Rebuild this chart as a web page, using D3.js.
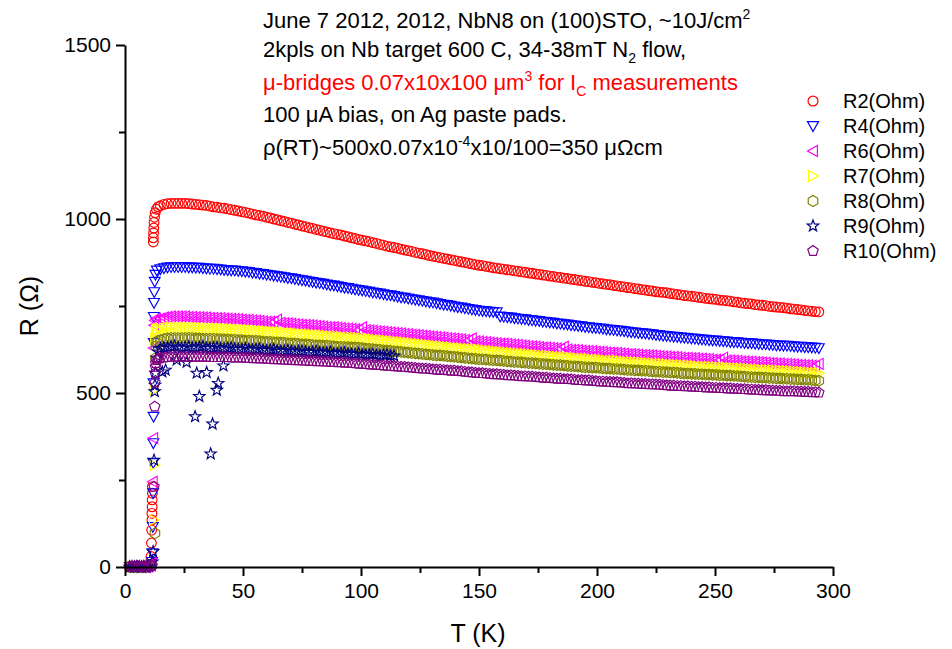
<!DOCTYPE html>
<html><head><meta charset="utf-8">
<script src="https://cdn.jsdelivr.net/npm/d3@7"></script>
<style>
body{margin:0;background:#fff;}
text{font-family:"Liberation Sans",Arial,sans-serif;}
</style>
</head><body>
<svg id="c" width="952" height="649"></svg>
<script>
// ---------- DATA ----------
const xTicks = [0,50,100,150,200,250,300];
const xMinor = [25,75,125,175,225,275];
const yTicks = [0,500,1000,1500];
const yMinor = [250,750,1250];

const seriesNames = ["R2(Ohm)","R4(Ohm)","R6(Ohm)","R7(Ohm)","R8(Ohm)","R9(Ohm)","R10(Ohm)"];

// temperature grids of the normal-state readings (K)
const tempK = [15,18,21,24,27,30,33,36,39,42,45,48,51,54,57,60,63,66,69,72,75,78,81,84,87,90,93,96,99,102,105,108,111,114,117,120,123,126,129,132,135,138,141,144,147,150,153,156,159,162,165,168,171,174,177,180,183,186,189,192,195,198,201,204,207,210,213,216,219,222,225,228,231,234,237,240,243,246,249,252,255,258,261,264,267,270,273,276,279,282,285,288,291,294];
const tempK2 = [16.5,19.5,22.5,25.5,28.5,31.5,34.5,37.5,40.5,43.5,46.5,49.5,52.5,55.5,58.5,61.5,64.5,67.5,70.5,73.5,76.5,79.5,82.5,85.5,88.5,91.5,94.5,97.5,100.5,103.5,106.5,109.5,112.5,115.5,118.5,121.5,124.5,127.5,130.5,133.5,136.5,139.5,142.5,145.5,148.5,151.5,154.5,157.5,160.5,163.5,166.5,169.5,172.5,175.5,178.5,181.5,184.5,187.5,190.5,193.5,196.5,199.5,202.5,205.5,208.5,211.5,214.5,217.5,220.5,223.5,226.5,229.5,232.5,235.5,238.5,241.5,244.5,247.5,250.5,253.5,256.5,259.5,262.5,265.5,268.5,271.5,274.5,277.5,280.5,283.5,286.5,289.5,292.5];

const r2 = [1038,1044,1045,1045,1044,1042,1040,1037,1034,1031,1027,1023,1019,1014,1010,1005,1000,995,990,985,980,975,970,965,960,956,951,946,941,937,932,927,922,918,913,909,904,900,895,891,887,883,879,875,871,867,864,860,857,854,851,848,845,842,839,836,833,830,827,824,821,818,815,812,809,806,803,800,797,794,791,789,786,783,780,778,775,772,770,767,765,762,759,757,754,752,749,747,745,742,740,737,735,733];
const r2b = [1042,1045,1045,1045,1043,1041,1039,1035,1032,1029,1025,1021,1017,1012,1008,1003,998,993,988,983,978,973,968,963,958,954,949,944,939,935,930,925,920,916,911,907,902,898,893,889,885,881,877,873,869,866,862,859,856,853,850,847,844,841,838,835,832,829,826,823,820,817,814,811,808,805,802,799,796,793,790,788,785,782,779,777,774,771,769,766,764,761,758,756,753,751,748,746,744,741,739,736,734];
const r4 = [856,861,862,862,861,860,859,857,856,854,852,851,849,846,843,840,837,834,831,828,824,821,817,814,810,807,803,800,796,793,789,786,782,779,775,772,768,765,761,758,754,751,747,744,740,737,735,733,720,718,715,713,710,708,705,703,700,698,695,693,690,688,686,683,681,679,676,674,672,670,667,665,663,661,659,657,655,653,651,650,648,646,645,643,642,640,639,637,636,635,633,632,631,629];
const r4b = [859,862,862,862,861,860,858,857,855,853,852,850,848,845,842,839,836,833,830,826,823,819,816,812,809,805,802,798,795,791,788,784,781,777,774,770,767,763,760,756,753,749,746,742,739,736,734,732,719,717,714,712,709,707,704,702,699,697,694,692,689,687,685,682,680,678,675,673,671,669,666,664,662,660,658,656,654,652,651,649,647,646,644,643,641,640,638,637,636,634,633,632,630];
const r6 = [714,719,720,720,719,718,717,716,715,714,713,712,710,709,707,705,704,702,700,698,696,695,693,691,689,688,686,684,682,681,679,677,675,673,671,669,667,665,663,661,659,657,655,653,657,648,646,644,642,641,639,637,635,633,631,630,628,633,624,623,621,620,618,617,615,614,612,611,609,608,607,605,604,603,601,600,599,598,596,595,594,593,591,590,589,588,586,585,584,583,581,580,579,584];
const r6b = [717,720,720,720,719,718,717,716,715,714,713,711,710,708,706,705,711,701,699,697,696,694,692,690,689,687,685,683,689,680,678,676,674,672,670,668,666,664,662,660,658,656,654,652,649,647,645,643,642,640,638,636,634,632,631,629,627,625,624,622,621,619,618,616,615,613,612,610,609,608,606,605,604,602,601,600,599,597,596,602,594,592,591,590,589,587,586,585,584,582,581,580,578];
const r7 = [684,687,688,688,687,687,686,685,685,684,683,682,681,680,678,677,675,674,672,671,669,668,666,665,663,662,660,659,658,656,654,652,650,648,646,644,642,639,637,635,633,631,629,627,626,624,622,620,618,616,614,613,611,609,607,606,604,603,601,599,598,596,595,593,592,591,589,588,587,585,584,583,581,580,579,578,576,575,574,573,572,571,570,569,567,566,565,564,563,562,561,559,558,557];
const r7b = [686,688,688,688,687,687,686,685,685,684,683,682,681,679,678,676,675,673,672,670,669,667,666,664,663,661,660,659,657,655,653,651,649,647,645,643,641,638,636,634,632,630,628,627,625,623,621,619,617,615,614,612,610,608,607,605,604,602,600,599,597,596,594,593,592,590,589,588,586,585,584,582,581,580,579,577,576,575,574,573,572,571,570,568,567,566,565,564,563,562,560,559,558];
const r8 = [652,657,658,658,658,657,656,656,655,654,653,652,651,650,649,647,646,645,643,642,640,639,637,636,635,633,632,631,630,628,626,624,622,620,618,616,614,612,610,608,607,605,603,601,599,597,596,594,593,591,589,588,586,585,583,582,580,579,577,576,574,573,572,570,569,568,566,565,564,563,561,560,559,558,556,555,554,553,552,551,550,549,548,546,545,544,543,542,541,540,539,538,537,535];
const r8b = [655,658,658,658,658,657,656,656,655,654,653,652,651,650,648,647,646,644,643,641,640,638,637,636,634,633,632,631,629,627,625,623,621,619,617,615,613,611,609,608,606,604,602,600,598,597,595,594,592,590,589,587,586,584,583,581,580,578,577,575,574,573,571,570,569,567,566,565,564,562,561,560,559,557,556,555,554,553,552,551,550,549,547,546,545,544,543,542,541,540,539,538,536];
const r9 = [628,631,635,629,633,630,634,628,631,627,630,625,628,624,627,622,625,620,623,619,621,617,620,616,618,613,616,612,614,610,612,608,610,607];
const r9b = [630,633,631,632,630,632,629,630,628,629,627,626,625,626,623,624,622,621,620,620,619,618,617,616,614,615,613,612,611,611,609,609,607];
const r10 = [600,603,604,604,604,604,604,603,603,603,602,602,601,600,599,598,597,596,595,594,593,592,591,590,589,588,587,586,584,583,581,580,578,577,575,574,572,570,569,567,566,564,563,561,559,557,556,554,553,551,550,548,547,546,544,543,541,540,539,537,536,535,533,532,531,530,528,527,526,525,524,523,521,520,519,518,517,516,515,514,513,512,511,510,509,508,507,506,505,505,504,503,502,501];
const r10b = [602,604,604,604,604,604,604,603,603,603,602,602,601,600,599,598,597,596,595,594,593,592,591,590,589,588,587,585,584,582,581,579,578,576,575,573,571,570,568,567,565,564,562,560,558,557,555,554,552,551,549,548,547,545,544,542,541,540,538,537,536,534,533,532,531,529,528,527,526,525,524,522,521,520,519,518,517,516,515,514,513,512,511,510,509,508,507,506,505,505,504,503,502];

// superconducting transition and low-T readings (T in K, R in Ohm)
const r2TransT = [2,3,4,5,6,7,8,9,10,10.6,11.0,11.2,11.3,11.4,11.4,11.5,11.5,11.6,11.6,12.0,12.0,12.1,12.2,12.3,12.5,12.8,13.3,14.0];
const r2TransR = [0,1,0,1,0,1,0,1,2,8,30,69,106,135,154,173,193,212,231,934,946,960,974,990,1005,1018,1028,1035];
const r4TransT = [2,3,4,5,6,7,8,9,10,11.0,11.5,11.7,11.8,11.9,12.0,12.0,12.1,12.1,12.2,12.2,12.3,12.4,12.6,12.9,13.5];
const r4TransR = [0,1,0,1,0,1,0,1,1,3,15,40,115,212,299,356,432,528,644,719,759,790,820,840,852];
const r6TransT = [2,3,4,5,6,7,8,9,10,11.0,11.4,11.8,12.0,12.2,12.4,12.7,13.2];
const r6TransR = [1,0,1,0,1,0,1,0,2,4,12,245,370,629,695,708,714];
const r7TransT = [2,3,4,5,6,7,8,9,10,11.2,12.2,12.5,12.4,12.7,13.0,13.5,14.0];
const r7TransR = [0,1,1,0,1,1,0,1,2,5,135,293,509,655,675,682,684];
const r8TransT = [2,3,4,5,6,7,8,9,10,11.2,12.7,12.9,13.1,13.4,13.9];
const r8TransR = [1,0,1,1,0,1,1,0,2,4,97,600,635,645,650];
const r9TransT = [2,3,4,5,6,7,8,9,10,11.6,11.9,12.3,12.6,12.7,12.9,13.5,14.2,15.8,17.2,21.9,26.1,29.7,30.4,31.5,34.6,36.3,37.1,38.9,39.5,41.7];
const r9TransR = [0,1,0,1,1,0,1,0,2,15,44,307,504,523,557,600,618,561,566,595,588,432,557,490,559,325,411,508,528,578];
const r10TransT = [2,3,4,5,6,7,8,9,10,11,11.5,12.3,12.6,12.7,12.8,12.9,13.0,13.4,14.0];
const r10TransR = [2,1,2,3,2,1,3,2,2,3,4,231,461,530,557,575,586,595,599];

const colors = ["#FF0000","#0000FF","#FF00FF","#FFFF00","#808000","#000080","#800080"];
const shapes = ["circle","down","left","right","hexagon","star","pentagon"];

// ---------- CHART ----------
const svg = d3.select("#c");
const x = d3.scaleLinear().domain([0,300]).range([125,833]);
const y = d3.scaleLinear().domain([0,1500]).range([567,45]);

function symPath(shape, s){
  switch(shape){
    case "circle": { const r=s*0.9; return `M${r},0A${r},${r} 0 1,1 ${-r},0A${r},${r} 0 1,1 ${r},0Z`; }
    case "down": return `M${-s},${-s*0.8}L${s},${-s*0.8}L0,${s*1.0}Z`;
    case "left": return `M${s*0.8},${-s}L${s*0.8},${s}L${-s},0Z`;
    case "right": return `M${-s*0.8},${-s}L${-s*0.8},${s}L${s},0Z`;
    case "hexagon": {
      let p=[]; for(let k=0;k<6;k++){const a=Math.PI/2+k*Math.PI/3; p.push([s*Math.cos(a), s*Math.sin(a)]);}
      return "M"+p.map(q=>q[0].toFixed(2)+","+q[1].toFixed(2)).join("L")+"Z"; }
    case "star": {
      let p=[]; for(let k=0;k<10;k++){const a=-Math.PI/2+k*Math.PI/5; const rr=(k%2===0)?s*1.1:s*0.45; p.push([rr*Math.cos(a), rr*Math.sin(a)]);}
      return "M"+p.map(q=>q[0].toFixed(2)+","+q[1].toFixed(2)).join("L")+"Z"; }
    case "pentagon": {
      let p=[]; for(let k=0;k<5;k++){const a=-Math.PI/2+k*2*Math.PI/5; p.push([s*Math.cos(a), s*Math.sin(a)]);}
      return "M"+p.map(q=>q[0].toFixed(2)+","+q[1].toFixed(2)).join("L")+"Z"; }
  }
}

const normalA = [r2,r4,r6,r7,r8,r9,r10];
const normalB = [r2b,r4b,r6b,r7b,r8b,r9b,r10b];
const transT = [r2TransT,r4TransT,r6TransT,r7TransT,r8TransT,r9TransT,r10TransT];
const transR = [r2TransR,r4TransR,r6TransR,r7TransR,r8TransR,r9TransR,r10TransR];

const plot = svg.append("g");
normalA.forEach((vals, si) => {
  const a = vals.map((v,i)=>[tempK[i], v]);
  const b = normalB[si].map((v,i)=>[tempK2[i], v]);
  const merged = [];
  for (let i=0;i<Math.max(a.length,b.length);i++){ if(a[i]) merged.push(a[i]); if(b[i]) merged.push(b[i]); }
  const pts = transT[si].map((t,i)=>[t, transR[si][i]]).concat(merged);
  plot.append("g").selectAll("path").data(pts).join("path")
    .attr("transform", d=>`translate(${x(d[0])},${y(d[1])})`)
    .attr("d", symPath(shapes[si], 5.4))
    .attr("fill","none").attr("stroke", colors[si]).attr("stroke-width",1.15);
});

// axes
const fmt = d3.format("d");
svg.append("g").attr("transform","translate(0,567)")
  .call(d3.axisBottom(x).tickValues(xTicks).tickFormat(fmt).tickSize(9).tickSizeOuter(0).tickPadding(7));
svg.append("g").attr("transform","translate(0,567)")
  .call(d3.axisBottom(x).tickValues(xMinor).tickSize(6).tickFormat("")).select(".domain").remove();
svg.append("g").attr("transform","translate(125,0)")
  .call(d3.axisLeft(y).tickValues(yTicks).tickFormat(fmt).tickSize(9).tickSizeOuter(0).tickPadding(5));
svg.append("g").attr("transform","translate(125,0)")
  .call(d3.axisLeft(y).tickValues(yMinor).tickSize(6).tickFormat("")).select(".domain").remove();
svg.selectAll(".domain").attr("stroke","#000").attr("stroke-width",2);
svg.selectAll(".tick line").attr("stroke","#000").attr("stroke-width",2);
svg.selectAll(".tick text").attr("font-size",21).attr("fill","#000")
  .attr("font-family",'"Liberation Sans",Arial,sans-serif');

// axis titles
svg.append("text").attr("x",478).attr("y",642).attr("text-anchor","middle")
  .attr("font-size",25).text("T (K)");
svg.append("text").attr("transform","translate(38,306) rotate(-90)").attr("text-anchor","middle")
  .attr("font-size",25).text("R (Ω)");

// annotation
const notes = [
  {y:28, fill:"#000", seg:[["June 7 2012, 2012, NbN8 on (100)STO, ~10J/cm"],["2","sup"]]},
  {y:57, fill:"#000", seg:[["2kpls on Nb target 600 C, 34-38mT N"],["2","sub"],[" flow,"]]},
  {y:90, fill:"#FF0000", seg:[["μ-bridges 0.07x10x100 μm"],["3","sup"],[" for I"],["C","sub"],[" measurements"]]},
  {y:122, fill:"#000", seg:[["100 μA bias, on Ag paste pads."]]},
  {y:155, fill:"#000", seg:[["ρ(RT)~500x0.07x10"],["-4","sup"],["x10/100=350 μΩcm"]]}
];
notes.forEach(n=>{
  const t = svg.append("text").attr("x",263).attr("y",n.y).attr("font-size",22).attr("fill",n.fill);
  let shift = 0;
  n.seg.forEach(s=>{
    const ts = t.append("tspan").text(s[0]);
    let target = 0;
    if(s[1]==="sup"){ target=-9; ts.attr("font-size",14); }
    if(s[1]==="sub"){ target=6; ts.attr("font-size",14); }
    ts.attr("dy", target-shift);
    shift = target;
  });
});

// legend
seriesNames.forEach((nm,i)=>{
  const cy = 101 + i*25;
  svg.append("path").attr("transform",`translate(813,${cy})`)
    .attr("d", symPath(shapes[i],5.5)).attr("fill","none").attr("stroke",colors[i]).attr("stroke-width",1.2);
  svg.append("text").attr("x",843).attr("y",cy+7).attr("font-size",20).attr("fill","#000").text(nm);
});
</script>
</body></html>
